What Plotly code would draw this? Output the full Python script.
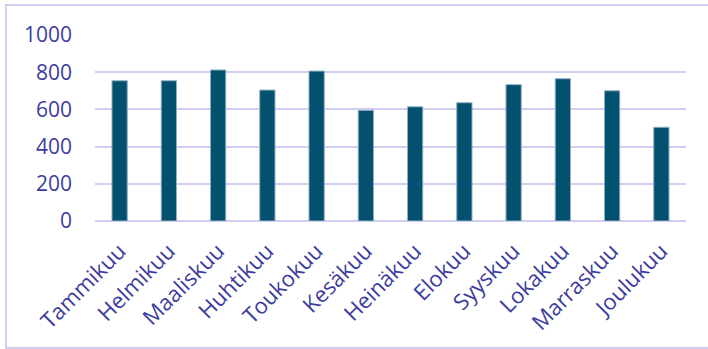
import plotly.graph_objects as go

months = ["Tammikuu", "Helmikuu", "Maaliskuu", "Huhtikuu", "Toukokuu", "Kesäkuu",
          "Heinäkuu", "Elokuu", "Syyskuu", "Lokakuu", "Marraskuu", "Joulukuu"]
values = [754, 754, 812, 704, 806, 595, 614, 636, 733, 765, 700, 504]
y_ticks = [0, 200, 400, 600, 800, 1000]

W, H = 708, 349
ML, MR, MT, MB = 95, 22, 35, 128
PW, PH = W - ML - MR, H - MT - MB

text_col = "#3c3c9e"
grid_col = "#d2cdf0"
bar_col = "#03506f"

fig = go.Figure(go.Bar(
    x=months, y=values,
    marker=dict(color=bar_col, line=dict(color="#8fb0c4", width=1)),
))

# outer chart frame
def px_x(p):
    return (p - ML) / PW

def px_y(p):
    return 1 - (p - MT) / PH

fig.add_shape(type="rect", xref="paper", yref="paper",
              x0=px_x(6), x1=px_x(715), y0=px_y(5), y1=px_y(348),
              line=dict(color=grid_col, width=2), layer="below")

fig.update_layout(
    width=W, height=H,
    margin=dict(l=ML, r=MR, t=MT, b=MB),
    paper_bgcolor="white", plot_bgcolor="white",
    bargap=0.69,
    showlegend=False,
    font=dict(family="Open Sans", size=21, color=text_col),
)
fig.update_xaxes(
    tickangle=-45, showgrid=False, showline=False, ticks="",
    ticklabelstandoff=12,
    tickfont=dict(size=22, color=text_col),
)
fig.update_yaxes(
    range=[0, 1000], tickvals=y_ticks, showgrid=True, gridcolor=grid_col, gridwidth=2,
    zeroline=True, zerolinecolor=grid_col, zerolinewidth=2,
    showline=False, ticks="", ticklabelstandoff=22,
    tickfont=dict(size=21, color=text_col),
)

fig.write_html("out.html")
